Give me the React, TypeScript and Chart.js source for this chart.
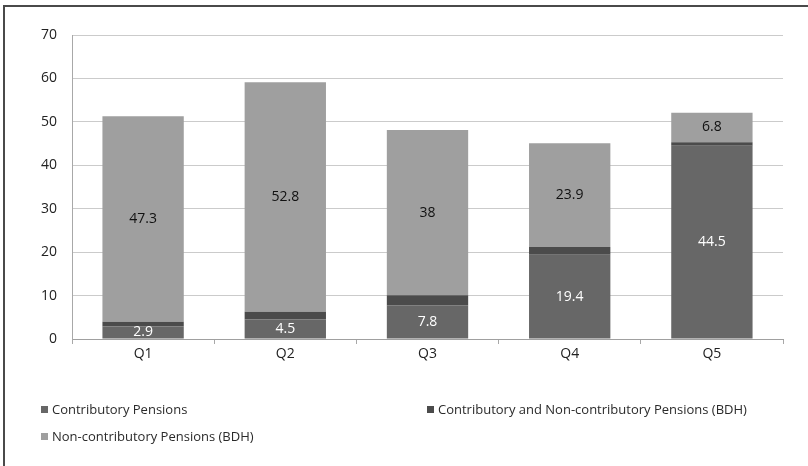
import React, { useEffect, useRef } from "react";
import { Chart, registerables } from "chart.js";

Chart.register(...registerables);

const categories = ["Q1", "Q2", "Q3", "Q4", "Q5"];
const contributory = [2.9, 4.5, 7.8, 19.4, 44.5];
const bothPensions = [1.1, 1.8, 2.3, 1.8, 0.8];
const nonContributory = [47.3, 52.8, 38, 23.9, 6.8];
const seriesNames = [
  "Contributory Pensions",
  "Contributory and Non-contributory Pensions (BDH)",
  "Non-contributory Pensions (BDH)",
];
const yTicks = [0, 10, 20, 30, 40, 50, 60, 70];

const FONT = "'Open Sans', 'Noto Sans', sans-serif";

const valueLabels = {
  id: "valueLabels",
  afterDatasetsDraw(chart: any) {
    const ctx = chart.ctx;
    ctx.save();
    ctx.font = `14px ${FONT}`;
    ctx.textAlign = "center";
    ctx.textBaseline = "middle";
    chart.data.datasets.forEach((ds: any, di: number) => {
      if (!ds.showLabels) return;
      const meta = chart.getDatasetMeta(di);
      meta.data.forEach((bar: any, i: number) => {
        const p = bar.getProps(["x", "y", "base"], true);
        ctx.fillStyle = ds.labelColor;
        ctx.fillText(String(ds.data[i]), p.x, (p.y + p.base) / 2);
      });
    });
    ctx.restore();
  },
};

const customLegend = {
  id: "customLegend",
  afterDraw(chart: any) {
    const ctx = chart.ctx;
    ctx.save();
    ctx.font = `13px ${FONT}`;
    ctx.textBaseline = "middle";
    ctx.textAlign = "left";
    const colX = [41, 427];
    const rowY = [410, 437];
    chart.data.datasets.forEach((ds: any, i: number) => {
      const x = colX[i % 2];
      const y = rowY[Math.floor(i / 2)];
      ctx.fillStyle = ds.backgroundColor;
      ctx.fillRect(x, y - 4, 7, 7);
      ctx.fillStyle = "#2a2a2a";
      ctx.fillText(ds.label, x + 11, y);
    });
    ctx.restore();
  },
};

export default function App() {
  const ref = useRef<HTMLCanvasElement>(null);
  useEffect(() => {
    if (!ref.current) return;
    const chart = new Chart(ref.current, {
      type: "bar",
      data: {
        labels: categories,
        datasets: [
          {
            label: seriesNames[0],
            data: contributory,
            backgroundColor: "#676767",
            showLabels: true,
            labelColor: "#ffffff",
          } as any,
          {
            label: seriesNames[1],
            data: bothPensions,
            backgroundColor: "#4b4b4b",
            showLabels: false,
          } as any,
          {
            label: seriesNames[2],
            data: nonContributory,
            backgroundColor: "#9f9f9f",
            showLabels: true,
            labelColor: "#111111",
          } as any,
        ],
      },
      options: {
        responsive: false,
        animation: false,
        layout: { padding: { left: 0, top: 35, right: 25, bottom: 97 } },
        datasets: {
          bar: { categoryPercentage: 1, barPercentage: 0.572, borderWidth: 0 },
        },
        plugins: {
          legend: { display: false },
          tooltip: { enabled: false },
        },
        scales: {
          x: {
            stacked: true,
            afterFit: (s: any) => {
              s.height = 30;
            },
            grid: {
              drawOnChartArea: false,
              drawTicks: true,
              tickLength: 5,
              color: "#a8a8a8",
            },
            border: { display: true, color: "#a0a0a0" },
            ticks: {
              color: "#222",
              font: { family: FONT, size: 14 },
              padding: 2,
            },
          },
          y: {
            stacked: true,
            min: 0,
            max: 70,
            afterFit: (s: any) => {
              s.width = 72;
            },
            afterBuildTicks: (s: any) => {
              s.ticks = yTicks.map((v) => ({ value: v }));
            },
            grid: { drawTicks: false, color: "#cbcbcb" },
            border: { display: true, color: "#a8a8a8" },
            ticks: {
              color: "#222",
              font: { family: FONT, size: 14 },
              padding: 15,
            },
          },
        },
      },
      plugins: [valueLabels, customLegend],
    });
    return () => chart.destroy();
  }, []);

  return (
    <div
      style={{
        position: "fixed",
        left: 0,
        top: 0,
        width: 808,
        height: 466,
        background: "#fff",
        overflow: "hidden",
      }}
    >
      <div
        style={{
          position: "absolute",
          left: 3,
          top: 5,
          width: 820,
          height: 480,
          borderTop: "2px solid #4a4a4a",
          borderLeft: "2px solid #4a4a4a",
        }}
      />
      <canvas
        ref={ref}
        width={808}
        height={466}
        style={{ position: "absolute", left: 0, top: 0 }}
      />
    </div>
  );
}
